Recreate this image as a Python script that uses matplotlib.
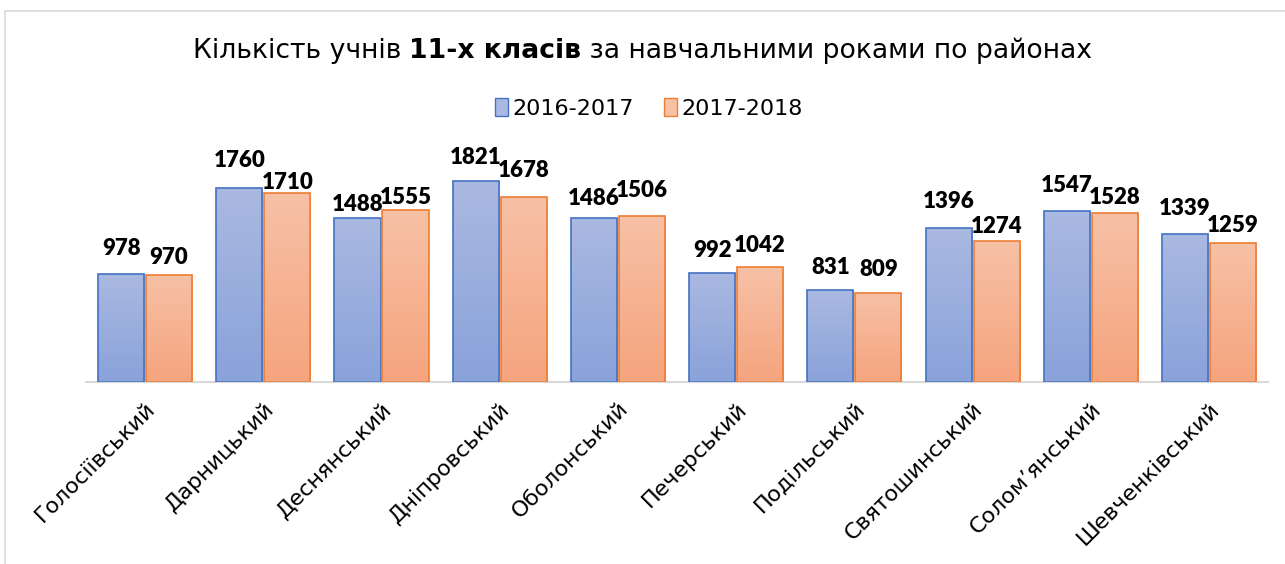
import numpy as np
import matplotlib
matplotlib.use("Agg")
import matplotlib.pyplot as plt
from matplotlib.colors import LinearSegmentedColormap
from matplotlib.patches import Rectangle

plt.rcParams['font.family'] = ['DejaVu Sans']

districts = ["Голосіївський", "Дарницький", "Деснянський", "Дніпровський",
             "Оболонський", "Печерський", "Подільський", "Святошинський",
             "Солом’янський", "Шевченківський"]
y2016 = [978, 1760, 1488, 1821, 1486, 992, 831, 1396, 1547, 1339]
y2017 = [970, 1710, 1555, 1678, 1506, 1042, 809, 1274, 1528, 1259]
series_names = ["2016-2017", "2017-2018"]

# підйом підписів над стовпцями (пікселі), як у вихідному графіку
lift2016 = [26, 27, 13, 24, 20, 22, 23, 26, 26, 26]
lift2017 = [17, 11, 13, 26, 25, 22, 23, 15, 16, 18]

# кольори: градієнт зверху світліший
blue_grad = ["#AAB9E1", "#8AA2DA"]
orange_grad = ["#F7C1A6", "#F5A47E"]
blue_edge = "#4472C4"
orange_edge = "#ED7D31"

fig = plt.figure(figsize=(12.85, 5.64), dpi=100)
fig.patches.append(Rectangle((0.004, -0.01), 1.1, 0.99, transform=fig.transFigure,
                             fill=False, edgecolor="#D9D9D9", linewidth=1.2))

ax = fig.add_axes([0.0669, 0.3227, 0.92, 0.41])
x = np.arange(len(districts))
w = 0.39
gap = 0.008

bars1 = ax.bar(x - w / 2 - gap, y2016, w, color="none", edgecolor=blue_edge, linewidth=1.2, zorder=3)
bars2 = ax.bar(x + w / 2 + gap, y2017, w, color="none", edgecolor=orange_edge, linewidth=1.2, zorder=3)

ax.set_xlim(-0.5, len(districts) - 0.5)
ax.set_ylim(0, 2096)


def fill_gradient(bars, cols):
    cmap = LinearSegmentedColormap.from_list("g", cols[::-1])
    grad = np.linspace(0, 1, 256).reshape(-1, 1)
    for b in bars:
        x0, y0 = b.get_x(), b.get_y()
        im = ax.imshow(grad, extent=[x0, x0 + b.get_width(), y0, y0 + b.get_height()],
                       origin="lower", cmap=cmap, aspect="auto", zorder=2)
        im.set_clip_path(b)


fill_gradient(bars1, blue_grad)
fill_gradient(bars2, orange_grad)
ax.set_aspect("auto")


def add_labels(bars, vals, lifts):
    for b, v, l in zip(bars, vals, lifts):
        ax.annotate(str(v), (b.get_x() + b.get_width() / 2, v), xytext=(0, l * 0.72),
                    textcoords="offset points", ha="center", va="center",
                    fontsize=16, fontweight="heavy", family=["Lato", "DejaVu Sans"])


add_labels(bars1, y2016, lift2016)
add_labels(bars2, y2017, lift2017)

for s in ["top", "right", "left"]:
    ax.spines[s].set_visible(False)
ax.spines["bottom"].set_color("#D9D9D9")
ax.spines["bottom"].set_linewidth(1.5)
ax.set_yticks([])
ax.set_xticks(x)
ax.set_xticklabels(districts, rotation=45, ha="right", rotation_mode="anchor", fontsize=16)
ax.tick_params(axis="x", length=0, pad=12)

# легенда
handles = [Rectangle((0, 0), 1, 1, facecolor=blue_grad[0], edgecolor=blue_edge),
           Rectangle((0, 0), 1, 1, facecolor=orange_grad[0], edgecolor=orange_edge)]
fig.legend(handles, series_names, loc="center", bbox_to_anchor=(0.505, 0.808), ncol=2,
           frameon=False, fontsize=16, handlelength=0.55, handleheight=0.85,
           handletextpad=0.2, columnspacing=1.4)

# заголовок з жирною частиною
parts = [("Кількість учнів ", "normal"), ("11-х класів", "bold"),
         (" за навчальними роками по районах", "normal")]
fig.canvas.draw()
renderer = fig.canvas.get_renderer()
texts = []
xpos = 0
for s, wt in parts:
    t = fig.text(xpos, 0.91, s, fontsize=19.2, fontweight=wt, va="center", ha="left")
    bb = t.get_window_extent(renderer)
    texts.append(t)
    xpos += bb.width / fig.bbox.width
start = 0.5 - xpos / 2
cur = start
for t in texts:
    wdt = t.get_window_extent(renderer).width / fig.bbox.width
    t.set_x(cur)
    cur += wdt

fig.savefig("out.png", dpi=100)
